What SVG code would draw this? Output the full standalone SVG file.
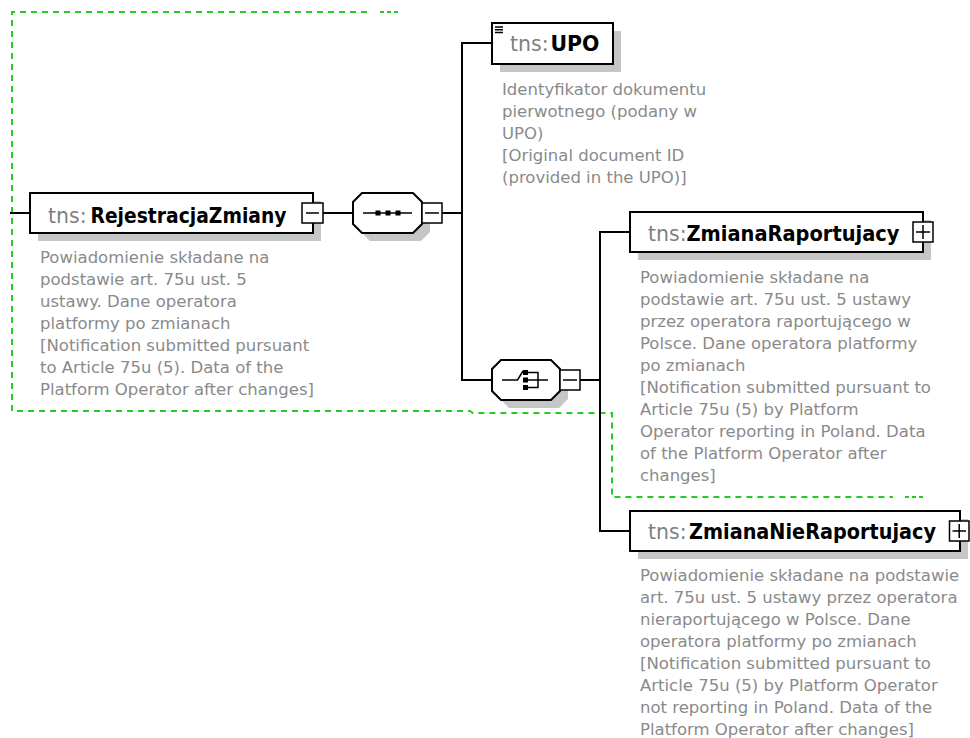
<svg xmlns="http://www.w3.org/2000/svg" width="970" height="738" viewBox="0 0 970 738">
<style>
  .box { fill: #ffffff; stroke: #000000; stroke-width: 2; }
  .shadow { fill: #c6c6c6; stroke: none; }
  .btn { fill: #ffffff; stroke: #000000; stroke-width: 1.5; }
  .sign { stroke: #000000; stroke-width: 1.5; fill: none; }
  .conn { stroke: #000000; stroke-width: 2; fill: none; }
  .ns { font-family: "DejaVu Sans", Verdana, sans-serif; font-size: 20.5px; fill: #808080; }
  .nm { font-family: "DejaVu Sans", Verdana, sans-serif; font-size: 20.5px; font-weight: bold; fill: #000000; }
  .desc { font-family: "DejaVu Sans", Verdana, sans-serif; font-size: 16.5px; fill: #8a8a8a; }
  .green { stroke: #22cc22; stroke-width: 2; fill: none; stroke-dasharray: 6 5; }
  .dots { stroke: #22cc22; stroke-width: 2; fill: none; stroke-dasharray: 4 3; }
  .icon { fill: #000000; }
</style>

<g id="group-boundary">
  <path class="green" d="M367,12 H12 V411 H470 L473,413 H612 V497 H893"/>
  <path class="dots" d="M380,12 H399"/>
  <path class="dots" d="M905,497 H926"/>
</g>

<g id="connectors">
  <path class="conn" d="M10,213 H30"/>
  <path class="conn" d="M323,213 H353"/>
  <path class="conn" d="M442,213 H462"/>
  <path class="conn" d="M492,43 H462 V380 H492"/>
  <path class="conn" d="M580,380 H600"/>
  <path class="conn" d="M630,232 H600 V531 H630"/>
</g>

<g id="node-RejestracjaZmiany">
  <rect class="shadow" x="38" y="201" width="283" height="40"/>
  <rect class="box" x="30" y="193" width="283" height="40"/>
  <text class="ns" x="48" y="223">tns:</text>
  <text class="nm" x="90.5" y="223" textLength="196" lengthAdjust="spacingAndGlyphs">RejestracjaZmiany</text>
  <rect class="btn" x="302" y="203" width="21" height="20"/>
  <path class="sign" d="M306,213 H319"/>
  <text class="desc">
    <tspan x="40" y="263">Powiadomienie składane na</tspan>
    <tspan x="40" y="285">podstawie art. 75u ust. 5</tspan>
    <tspan x="40" y="307">ustawy. Dane operatora</tspan>
    <tspan x="40" y="329">platformy po zmianach</tspan>
    <tspan x="40" y="351">[Notification submitted pursuant</tspan>
    <tspan x="40" y="373">to Article 75u (5). Data of the</tspan>
    <tspan x="40" y="395">Platform Operator after changes]</tspan>
  </text>
</g>

<g id="node-sequence">
  <polygon class="shadow" points="370,201 421,201 430,210 430,232 421,241 370,241 361,232 361,210"/>
  <polygon class="box" points="362,193 413,193 422,202 422,224 413,233 362,233 353,224 353,202"/>
  <path class="sign" d="M363,213 H412"/>
  <rect class="icon" x="375.5" y="210.5" width="5" height="5"/>
  <rect class="icon" x="385.5" y="210.5" width="5" height="5"/>
  <rect class="icon" x="395.5" y="210.5" width="5" height="5"/>
  <rect class="btn" x="422" y="203" width="20" height="20"/>
  <path class="sign" d="M425,213 H439"/>
</g>

<g id="node-UPO">
  <rect class="shadow" x="500" y="31" width="121" height="41"/>
  <rect class="box" x="492" y="23" width="121" height="41"/>
  <path class="sign" stroke-width="1.2" d="M495,27 H503 M495,29.8 H503 M495,32.6 H503"/>
  <text class="ns" x="510" y="51">tns:</text>
  <text class="nm" x="550.5" y="51" textLength="49" lengthAdjust="spacingAndGlyphs">UPO</text>
  <text class="desc">
    <tspan x="502" y="95">Identyfikator dokumentu</tspan>
    <tspan x="502" y="117">pierwotnego (podany w</tspan>
    <tspan x="502" y="139">UPO)</tspan>
    <tspan x="502" y="161">[Original document ID</tspan>
    <tspan x="502" y="183">(provided in the UPO)]</tspan>
  </text>
</g>

<g id="node-choice">
  <polygon class="shadow" points="509,368 559,368 568,377 568,399 559,408 509,408 500,399 500,377"/>
  <polygon class="box" points="501,360 551,360 560,369 560,391 551,400 501,400 492,391 492,369"/>
  <path class="sign" d="M502,380 H517.5 L523,371"/>
  <rect class="icon" x="523" y="370" width="5" height="5"/>
  <rect class="icon" x="523" y="377.5" width="5" height="5"/>
  <rect class="icon" x="523" y="385" width="5" height="5"/>
  <path class="sign" d="M528,372.5 H538 V387.5 H528 M528,380 H548"/>
  <rect class="btn" x="560" y="370" width="20" height="20"/>
  <path class="sign" d="M563,380 H577"/>
</g>

<g id="node-ZmianaRaportujacy">
  <rect class="shadow" x="638" y="220" width="293" height="40"/>
  <rect class="box" x="630" y="212" width="293" height="40"/>
  <text class="ns" x="648" y="241">tns:</text>
  <text class="nm" x="686.5" y="241" textLength="213" lengthAdjust="spacingAndGlyphs">ZmianaRaportujacy</text>
  <rect class="btn" x="913" y="222" width="20" height="20"/>
  <path class="sign" d="M916,232 H930 M923,225 V239"/>
  <text class="desc">
    <tspan x="640" y="283">Powiadomienie składane na</tspan>
    <tspan x="640" y="305">podstawie art. 75u ust. 5 ustawy</tspan>
    <tspan x="640" y="327">przez operatora raportującego w</tspan>
    <tspan x="640" y="349">Polsce. Dane operatora platformy</tspan>
    <tspan x="640" y="371">po zmianach</tspan>
    <tspan x="640" y="393">[Notification submitted pursuant to</tspan>
    <tspan x="640" y="415">Article 75u (5) by Platform</tspan>
    <tspan x="640" y="437">Operator reporting in Poland. Data</tspan>
    <tspan x="640" y="459">of the Platform Operator after</tspan>
    <tspan x="640" y="481">changes]</tspan>
  </text>
</g>

<g id="node-ZmianaNieRaportujacy">
  <rect class="shadow" x="638" y="519" width="330" height="40"/>
  <rect class="box" x="630" y="511" width="330" height="40"/>
  <text class="ns" x="648" y="539">tns:</text>
  <text class="nm" x="689" y="539" textLength="247" lengthAdjust="spacingAndGlyphs">ZmianaNieRaportujacy</text>
  <rect class="btn" x="949.5" y="521" width="19.5" height="20"/>
  <path class="sign" d="M952.5,531 H966 M959.2,524 V538"/>
  <text class="desc">
    <tspan x="640" y="581">Powiadomienie składane na podstawie</tspan>
    <tspan x="640" y="603">art. 75u ust. 5 ustawy przez operatora</tspan>
    <tspan x="640" y="625">nieraportującego w Polsce. Dane</tspan>
    <tspan x="640" y="647">operatora platformy po zmianach</tspan>
    <tspan x="640" y="669">[Notification submitted pursuant to</tspan>
    <tspan x="640" y="691">Article 75u (5) by Platform Operator</tspan>
    <tspan x="640" y="713">not reporting in Poland. Data of the</tspan>
    <tspan x="640" y="735">Platform Operator after changes]</tspan>
  </text>
</g>
</svg>
